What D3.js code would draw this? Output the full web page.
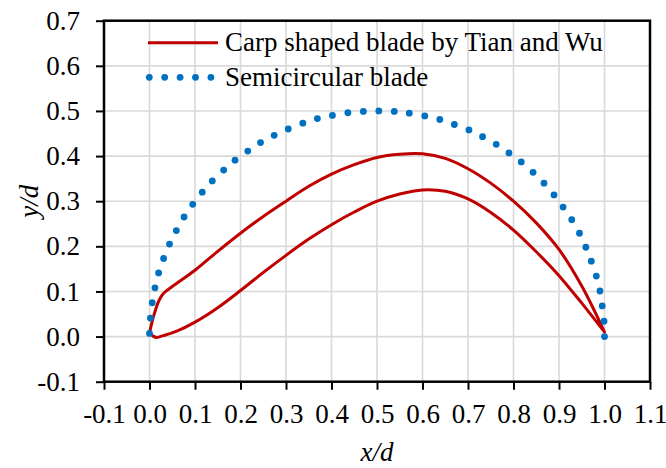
<!DOCTYPE html>
<meta charset="utf-8">
<html>
<head><title>blade profiles</title>
<script src="https://cdn.jsdelivr.net/npm/d3@7"></script>
<style>
    body { margin: 0; background: #fff; }
    text { font-family: "Liberation Serif", "Times New Roman", serif; fill: #000; }
    .grid line { stroke: #d9d9d9; stroke-width: 1.6; }
    .tick line { stroke: #000; stroke-width: 2; }
    .frame { fill: none; stroke: #000; stroke-width: 2.5; }
</style>
</head>
<body>
<div id="chart"></div>
<script>
// axis ticks
var xTicks = [-0.1, 0.0, 0.1, 0.2, 0.3, 0.4, 0.5, 0.6, 0.7, 0.8, 0.9, 1.0, 1.1];
var yTicks = [-0.1, 0.0, 0.1, 0.2, 0.3, 0.4, 0.5, 0.6, 0.7];

// carp shaped blade (Tian and Wu), upper side, left to right
var carpUpperX = [0.000, 0.005, 0.011, 0.020, 0.030, 0.050, 0.100, 0.150, 0.200, 0.250, 0.300, 0.350, 0.400, 0.450, 0.500, 0.550, 0.600, 0.650, 0.700, 0.750, 0.800, 0.850, 0.900, 0.950, 1.000];
var carpUpperY = [0.008, 0.030, 0.052, 0.078, 0.095, 0.111, 0.147, 0.189, 0.229, 0.266, 0.300, 0.333, 0.360, 0.381, 0.397, 0.404, 0.405, 0.395, 0.372, 0.340, 0.300, 0.252, 0.193, 0.112, 0.010];
// lower side, left to right
var carpLowerX = [0.000, 0.008, 0.016, 0.030, 0.060, 0.100, 0.150, 0.200, 0.250, 0.300, 0.350, 0.400, 0.450, 0.500, 0.550, 0.600, 0.650, 0.700, 0.750, 0.800, 0.850, 0.900, 0.950, 1.000];
var carpLowerY = [0.008, 0.001, -0.002, 0.002, 0.012, 0.032, 0.064, 0.102, 0.142, 0.180, 0.216, 0.248, 0.276, 0.300, 0.316, 0.325, 0.322, 0.305, 0.275, 0.236, 0.188, 0.135, 0.074, 0.010];

// semicircular blade (dotted markers)
var semiX = [0.000, 0.002, 0.006, 0.012, 0.020, 0.031, 0.044, 0.059, 0.076, 0.095, 0.116, 0.138, 0.163, 0.188, 0.216, 0.244,
             0.274, 0.305, 0.337, 0.369, 0.402, 0.436, 0.470, 0.504, 0.538, 0.571, 0.605, 0.638, 0.670, 0.702, 0.732, 0.762,
             0.790, 0.817, 0.843, 0.867, 0.889, 0.909, 0.928, 0.945, 0.959, 0.971, 0.982, 0.990, 0.995, 0.999, 1.000];
var semiY = [0.007, 0.041, 0.075, 0.108, 0.141, 0.173, 0.205, 0.235, 0.265, 0.293, 0.320, 0.345, 0.369, 0.391, 0.411, 0.430,
             0.446, 0.460, 0.473, 0.483, 0.490, 0.496, 0.499, 0.500, 0.499, 0.495, 0.489, 0.481, 0.470, 0.458, 0.443, 0.426,
             0.407, 0.387, 0.364, 0.340, 0.314, 0.287, 0.259, 0.229, 0.198, 0.167, 0.134, 0.101, 0.068, 0.034, 0.000];

var legendNames = ["Carp shaped blade by Tian and Wu", "Semicircular blade"];

var W = 666, H = 468;
var pLeft = 104, pRight = 650, pTop = 20.7, pBottom = 381.7;
var fontSize = "27px";

var x = d3.scaleLinear().domain([-0.1, 1.1]).range([pLeft, pRight]);
var y = d3.scaleLinear().domain([-0.1, 0.7]).range([pBottom, pTop]);
var fmt = function(d) { return d.toFixed(1); };

var svg = d3.select("#chart").append("svg")
        .attr("width", W)
        .attr("height", H);

// gridlines
var grid = svg.append("g").attr("class", "grid");
grid.selectAll(".gx")
        .data(xTicks.slice(1, -1))
        .enter().append("line")
        .attr("x1", x).attr("x2", x)
        .attr("y1", pTop).attr("y2", pBottom);
grid.selectAll(".gy")
        .data(yTicks.slice(1, -1))
        .enter().append("line")
        .attr("y1", y).attr("y2", y)
        .attr("x1", pLeft).attr("x2", pRight);

// axes
var gx = svg.append("g")
        .attr("transform", "translate(0," + pBottom + ")")
        .call(d3.axisBottom(x).tickValues(xTicks).tickFormat(fmt).tickSize(8));
gx.select(".domain").remove();
gx.selectAll("text")
        .attr("y", 41.5).attr("dy", 0)
        .style("font-size", fontSize);

var gy = svg.append("g")
        .attr("transform", "translate(" + pLeft + ",0)")
        .call(d3.axisLeft(y).tickValues(yTicks).tickFormat(fmt).tickSize(8).tickPadding(16));
gy.select(".domain").remove();
gy.selectAll("text").style("font-size", fontSize);

svg.append("rect")
        .attr("class", "frame")
        .attr("x", pLeft).attr("y", pTop)
        .attr("width", pRight - pLeft).attr("height", pBottom - pTop);

// axis titles
svg.append("text")
        .attr("x", (pLeft + pRight) / 2).attr("y", 461)
        .attr("text-anchor", "middle")
        .style("font-size", fontSize).style("font-style", "italic")
        .text("x/d");
svg.append("text")
        .attr("transform", "translate(38," + ((pTop + pBottom) / 2) + ") rotate(-90)")
        .attr("text-anchor", "middle")
        .style("font-size", fontSize).style("font-style", "italic")
        .text("y/d");

// carp blade as a closed outline
var carpPts = carpUpperX.map(function(v, i) { return [v, carpUpperY[i]]; });
for (var i = carpLowerX.length - 1; i >= 0; i--) carpPts.push([carpLowerX[i], carpLowerY[i]]);

var line = d3.line()
        .x(function(d) { return x(d[0]); })
        .y(function(d) { return y(d[1]); })
        .curve(d3.curveCatmullRom.alpha(0.5));

svg.append("path")
        .datum(carpPts)
        .attr("d", line)
        .attr("fill", "none")
        .attr("stroke", "#c00000")
        .attr("stroke-width", 3)
        .attr("stroke-linejoin", "round");

// semicircle markers
svg.selectAll(".semi")
        .data(semiX)
        .enter().append("circle")
        .attr("cx", function(d) { return x(d); })
        .attr("cy", function(d, i) { return y(semiY[i]); })
        .attr("r", 3.4)
        .attr("fill", "#0070c0");

// legend
svg.append("line")
        .attr("x1", 148).attr("x2", 218)
        .attr("y1", 42.7).attr("y2", 42.7)
        .attr("stroke", "#c00000").attr("stroke-width", 3);
svg.selectAll(".ldot")
        .data([0, 1, 2, 3, 4])
        .enter().append("circle")
        .attr("cx", function(d) { return 149.3 + d * 15.4; })
        .attr("cy", 77.3)
        .attr("r", 3.4)
        .attr("fill", "#0070c0");
svg.selectAll(".ltext")
        .data(legendNames)
        .enter().append("text")
        .attr("x", 225)
        .attr("y", function(d, i) { return i === 0 ? 51.3 : 86; })
        .style("font-size", fontSize)
        .text(function(d) { return d; });
</script>
</body>
</html>
